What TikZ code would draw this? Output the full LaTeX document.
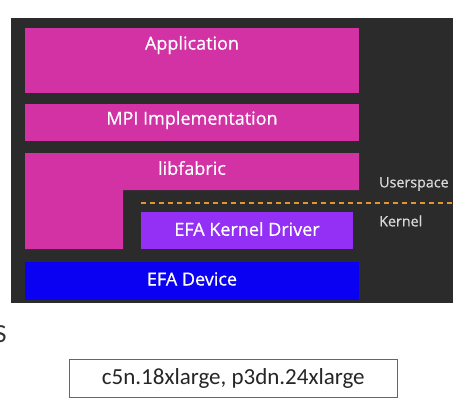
\documentclass[tikz,border=0pt]{standalone}
\usepackage{fontspec}
\setmainfont{Open Sans}
\newfontfamily\medfont{Open Sans}[FakeBold=0.7]
\newfontfamily\calib{Carlito}
\definecolor{bgdark}{HTML}{2B2B2B}
\definecolor{mag}{HTML}{D232A4}
\definecolor{purp}{HTML}{9430F5}
\definecolor{devblue}{HTML}{0A00F2}
\definecolor{dashor}{HTML}{E3952E}
\begin{document}
\begin{tikzpicture}[x=1pt,y=-1pt,
  layer/.style={draw=none,inner sep=0pt,outer sep=0pt},
  lbl/.style={text=white,font=\medfont\fontsize{18}{20}\selectfont,inner sep=0pt},
  side/.style={text=white!85!black,font=\medfont\fontsize{14.3}{16}\selectfont,inner sep=0pt,anchor=west}]
\useasboundingbox (0,0) rectangle (464,400);
\fill[white] (0,0) rectangle (464,400);
\node[layer,fill=bgdark,minimum width=442pt,minimum height=285pt,anchor=north west] (bg) at (11,18) {};
\node[layer,fill=mag,minimum width=334pt,minimum height=65pt,anchor=north west] (app) at (25,28) {};
\node[lbl] (applbl) at (192,45) {Application};
\node[layer,fill=mag,minimum width=334pt,minimum height=37pt,anchor=north west] (mpi) at (25,104) {};
\node[lbl] (mpilbl) at (192,120) {MPI Implementation};
\fill[mag] (25,153) -- (359,153) -- (359,190) -- (123,190) -- (123,249) -- (25,249) -- cycle;
\node[lbl] (lib) at (192,168) {libfabric};
\coordinate (dashA) at (141,203);
\coordinate (dashB) at (453,203);
\draw[dashor,line width=1.3pt,dash pattern=on 5pt off 4pt] (dashA) -- (dashB);
\node[layer,fill=purp,minimum width=212pt,minimum height=37pt,anchor=north west] (drv) at (141,212) {};
\node[lbl] (drvlbl) at (247,229) {EFA Kernel Driver};
\node[layer,fill=devblue,minimum width=334pt,minimum height=38pt,anchor=north west] (dev) at (25,262) {};
\node[lbl] (devlbl) at (192,279) {EFA Device};
\node[side] (us) at (379,184) {Userspace};
\node[side] (ke) at (379,221) {Kernel};
\node[text=black!80,font=\calib\fontsize{26}{28}\selectfont,inner sep=0pt] (s) at (0.5,334) {S};
\node[draw=black!60,line width=0.6pt,minimum width=328pt,minimum height=38pt,anchor=north west,inner sep=0pt] (inst) at (69,359) {};
\node[font=\calib\fontsize{23}{25}\selectfont,text=black!85,inner sep=0pt] (instlbl) at (inst.center) {c5n.18xlarge, p3dn.24xlarge};
\end{tikzpicture}
\end{document}
